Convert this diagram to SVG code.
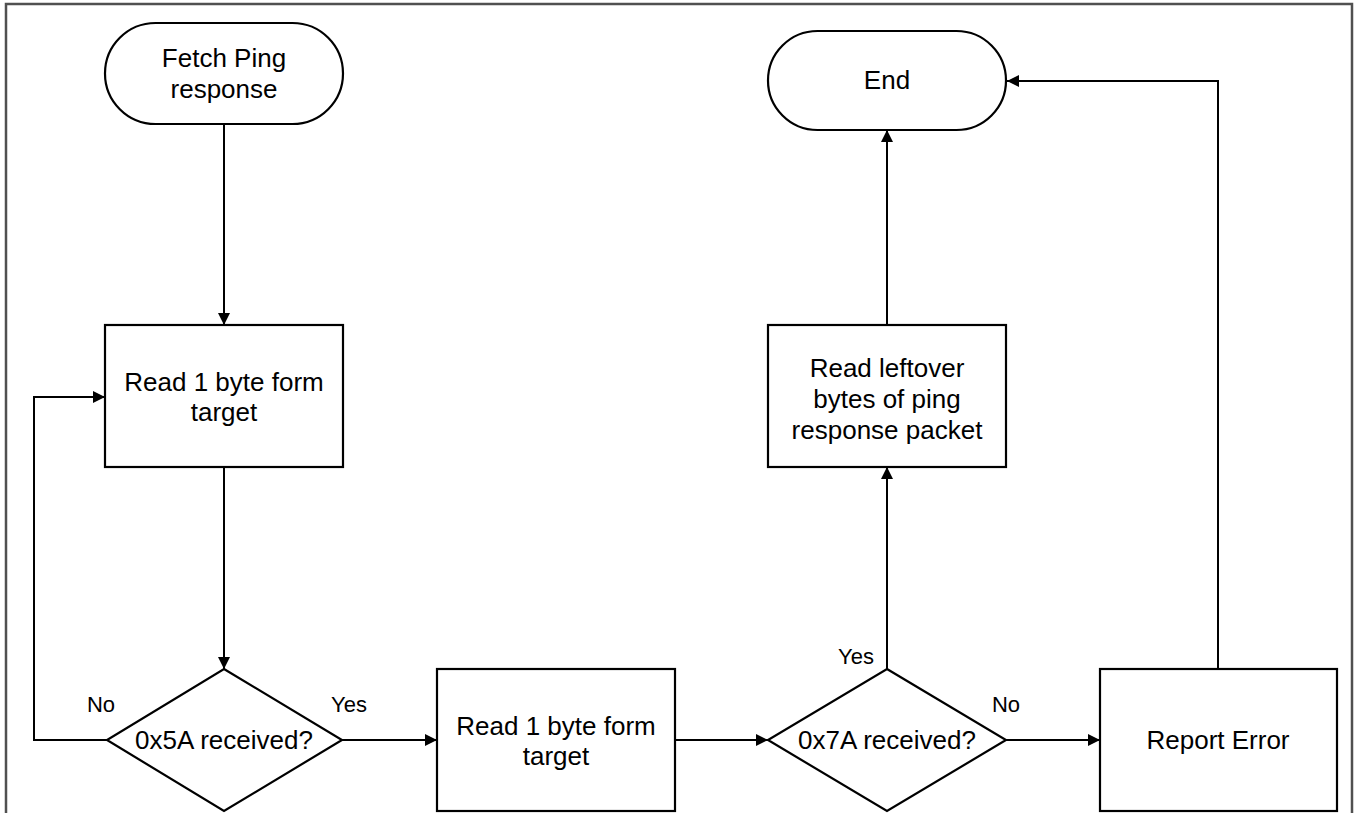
<svg xmlns="http://www.w3.org/2000/svg" width="1354" height="813" viewBox="0 0 1354 813">
  <style>
    .shape { fill: #ffffff; stroke: #000000; stroke-width: 2.2; }
    .edge { fill: none; stroke: #000000; stroke-width: 2; marker-end: url(#arrow); }
    .label { font-family: "Liberation Sans", Arial, sans-serif; font-size: 26px; fill: #000000; text-anchor: middle; }
    .tag { font-family: "Liberation Sans", Arial, sans-serif; font-size: 22px; fill: #000000; text-anchor: middle; }
    .frame { fill: none; stroke: #505050; stroke-width: 2.5; }
  </style>
  <defs>
    <marker id="arrow" viewBox="0 0 10 10" refX="10" refY="5" markerWidth="6" markerHeight="6" markerUnits="strokeWidth" orient="auto">
      <path d="M0,0 L10,5 L0,10 Z" fill="#000000"/>
    </marker>
  </defs>

  <rect width="1354" height="813" fill="#ffffff"/>
  <!-- outer frame, open at the bottom -->
  <path class="frame" d="M6,813 V4 H1352 V813"/>

  <g id="connectors">
    <path class="edge" d="M224,124 V325"/>
    <path class="edge" d="M224,467 V669"/>
    <path class="edge" d="M107,740 H34 V397 H105"/>
    <path class="edge" d="M342,740 H437"/>
    <path class="edge" d="M675,740 H768"/>
    <path class="edge" d="M887,669 V467"/>
    <path class="edge" d="M887,325 V130"/>
    <path class="edge" d="M1006,740 H1100"/>
    <path class="edge" d="M1218,669 V81 H1007"/>
    <text class="tag" x="101" y="712">No</text>
    <text class="tag" x="349" y="712">Yes</text>
    <text class="tag" x="856" y="664">Yes</text>
    <text class="tag" x="1006" y="712">No</text>
  </g>

  <g id="start">
    <rect class="shape" x="105" y="23" width="238" height="101" rx="50.5" ry="50.5"/>
    <text class="label" x="224" y="67">Fetch Ping</text>
    <text class="label" x="224" y="98">response</text>
  </g>

  <g id="read1">
    <rect class="shape" x="105" y="325" width="238" height="142"/>
    <text class="label" x="224" y="391">Read 1 byte form</text>
    <text class="label" x="224" y="421">target</text>
  </g>

  <g id="check5a">
    <path class="shape" d="M224,669 L342,740 L224,811 L107,740 Z"/>
    <text class="label" x="224" y="749">0x5A received?</text>
  </g>

  <g id="read2">
    <rect class="shape" x="437" y="669" width="238" height="142"/>
    <text class="label" x="556" y="735">Read 1 byte form</text>
    <text class="label" x="556" y="765">target</text>
  </g>

  <g id="check7a">
    <path class="shape" d="M887,669 L1006,740 L887,811 L768,740 Z"/>
    <text class="label" x="887" y="749">0x7A received?</text>
  </g>

  <g id="readLeftover">
    <rect class="shape" x="768" y="325" width="238" height="142"/>
    <text class="label" x="887" y="377">Read leftover</text>
    <text class="label" x="887" y="408">bytes of ping</text>
    <text class="label" x="887" y="439">response packet</text>
  </g>

  <g id="reportError">
    <rect class="shape" x="1100" y="669" width="237" height="142"/>
    <text class="label" x="1218" y="749">Report Error</text>
  </g>

  <g id="end">
    <rect class="shape" x="768" y="31" width="238" height="99" rx="49.5" ry="49.5"/>
    <text class="label" x="887" y="89">End</text>
  </g>
</svg>
